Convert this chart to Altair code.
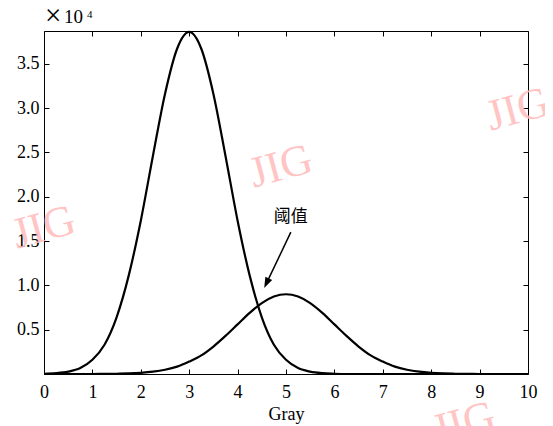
import altair as alt
import pandas as pd

# ---- data (counts in units of 10^4) ----
gray = [0.0, 0.25, 0.5, 0.75, 1.0, 1.25, 1.5, 1.75, 2.0, 2.25, 2.5, 2.75, 3.0,
        3.25, 3.5, 3.75, 4.0, 4.25, 4.5, 4.75, 5.0, 5.25, 5.5, 5.75, 6.0, 6.25,
        6.5, 6.75, 7.0, 7.25, 7.5, 7.75, 8.0, 8.25, 8.5, 8.75, 9.0, 9.25, 9.5,
        9.75, 10.0]
background = [0.003, 0.009, 0.026, 0.067, 0.16, 0.33, 0.64, 1.11, 1.73, 2.46,
              3.16, 3.67, 3.86, 3.67, 3.16, 2.46, 1.73, 1.11, 0.64, 0.33, 0.16,
              0.067, 0.026, 0.009, 0.003, 0, 0, 0, 0, 0, 0, 0, 0, 0, 0, 0, 0,
              0, 0, 0, 0]
target = [0, 0, 0, 0, 0, 0.001, 0.003, 0.006, 0.013, 0.026, 0.048, 0.083, 0.14,
          0.21, 0.31, 0.43, 0.56, 0.69, 0.80, 0.874, 0.90, 0.874, 0.80, 0.69,
          0.56, 0.43, 0.31, 0.21, 0.14, 0.083, 0.048, 0.026, 0.013, 0.006,
          0.003, 0.001, 0, 0, 0, 0, 0]
x_ticks = [0, 1, 2, 3, 4, 5, 6, 7, 8, 9, 10]
y_ticks = [0.5, 1.0, 1.5, 2.0, 2.5, 3.0, 3.5]
x_title = "Gray"
threshold_label = "阈值"
label_pos = [5.10, 1.77]
arrow_start = [5.10, 1.60]
arrow_base = [4.62, 1.05]
arrow_tip = [4.55, 0.97]
watermark = "JIG"

W, H = 484, 343
FONT = "Liberation Serif"

n = len(gray)
df = pd.DataFrame({"x": gray + gray, "v": background + target,
                   "s": ["a"] * n + ["b"] * n})

xs = alt.Scale(domain=[0, 10], nice=False, zero=False)
ys = alt.Scale(domain=[0, 3.87], nice=False, zero=False)

tick_style = dict(labels=False, tickSize=5, tickColor="black", tickWidth=1,
                  domain=False, grid=False, title="")

ax_x_main = alt.Axis(orient="bottom", values=x_ticks, format="d", tickSize=0,
                     domain=False, grid=False, labelFont=FONT, labelFontSize=18,
                     labelColor="black", labelPadding=9, labelFlush=False,
                     labelOverlap=False, title=x_title, titleFont=FONT,
                     titleFontSize=18, titleFontWeight="normal",
                     titleColor="black", titlePadding=4)
ax_y_main = alt.Axis(orient="left", values=y_ticks, format=".1f", tickSize=0,
                     domain=False, grid=False, labelFont=FONT, labelFontSize=18,
                     labelColor="black", labelPadding=5, labelOverlap=False,
                     title="")
ax_x_bottom_in = alt.Axis(orient="top", offset=-H, values=x_ticks, **tick_style)
ax_x_top_in = alt.Axis(orient="bottom", offset=-H, values=x_ticks, **tick_style)
ax_y_left_in = alt.Axis(orient="right", offset=-W, values=y_ticks, **tick_style)
ax_y_right_in = alt.Axis(orient="left", offset=-W, values=y_ticks, **tick_style)

lines = alt.Chart(df).mark_line(color="black", strokeWidth=2.2,
                                interpolate="monotone").encode(
    x=alt.X("x:Q", scale=xs, axis=ax_x_main),
    y=alt.Y("v:Q", scale=ys, axis=ax_y_main),
    detail="s:N")

ticks1 = alt.Chart(df).mark_line(strokeOpacity=0).encode(
    x=alt.X("x:Q", scale=xs, axis=ax_x_bottom_in),
    y=alt.Y("v:Q", scale=ys, axis=ax_y_left_in),
    detail="s:N")
ticks2 = alt.Chart(df).mark_line(strokeOpacity=0).encode(
    x=alt.X("x:Q", scale=xs, axis=ax_x_top_in),
    y=alt.Y("v:Q", scale=ys, axis=ax_y_right_in),
    detail="s:N")

ann_df = pd.DataFrame({"x": [label_pos[0]], "y": [label_pos[1]],
                       "t": [threshold_label]})
ann = alt.Chart(ann_df).mark_text(font="Noto Sans CJK SC", fontSize=17,
                                  color="black", align="center",
                                  baseline="middle").encode(
    x=alt.X("x:Q", scale=xs, axis=None),
    y=alt.Y("y:Q", scale=ys, axis=None),
    text="t:N")

arrow_df = pd.DataFrame({"x": [arrow_start[0]], "y": [arrow_start[1]],
                         "x2": [arrow_base[0]], "y2": [arrow_base[1]],
                         "xt": [arrow_tip[0]], "yt": [arrow_tip[1]]})
rule = alt.Chart(arrow_df).mark_rule(color="black", strokeWidth=1.5).encode(
    x=alt.X("x:Q", scale=xs, axis=None),
    y=alt.Y("y:Q", scale=ys, axis=None),
    x2="x2:Q", y2="y2:Q")
head = alt.Chart(arrow_df).mark_point(shape="M0,0L-0.35,1L0.35,1Z",
                                      filled=True, color="black", opacity=1,
                                      size=460, angle=205).encode(
    x=alt.X("xt:Q", scale=xs, axis=None),
    y=alt.Y("yt:Q", scale=ys, axis=None))

note_df = pd.DataFrame({"a": ["×"], "b": ["10"], "c": ["4"]})
times = alt.Chart(note_df).mark_text(font=FONT, fontSize=29, color="black",
                                     align="left", baseline="alphabetic").encode(
    x=alt.value(1), y=alt.value(-6), text="a:N")
ten = alt.Chart(note_df).mark_text(font=FONT, fontSize=19, color="black",
                                   align="left", baseline="alphabetic").encode(
    x=alt.value(20), y=alt.value(-8), text="b:N")
four = alt.Chart(note_df).mark_text(font=FONT, fontSize=11, color="black",
                                    align="left", baseline="alphabetic").encode(
    x=alt.value(43), y=alt.value(-13), text="c:N")

wm_df = pd.DataFrame({"t": [watermark]})
wm_layers = []
for px, py in [(0, 197), (237, 136), (474, 79), (420, 393)]:
    wm_layers.append(
        alt.Chart(wm_df).mark_text(font=FONT, fontSize=44, color="#ffbcbc",
                                   opacity=0.85, align="center",
                                   baseline="middle", angle=345).encode(
            x=alt.value(px), y=alt.value(py), text="t:N"))

chart = alt.layer(
    *wm_layers, lines, ticks1, ticks2, ann, rule, head, times, ten, four
).resolve_axis(x="independent", y="independent").properties(
    width=W, height=H,
    autosize=alt.AutoSizeParams(type="none"),
    padding={"left": 36, "top": 23, "right": 17, "bottom": 52},
    background="white",
).configure_view(stroke="black", strokeWidth=1)

chart.save("out.html", embed_options={"renderer": "svg", "actions": False})
